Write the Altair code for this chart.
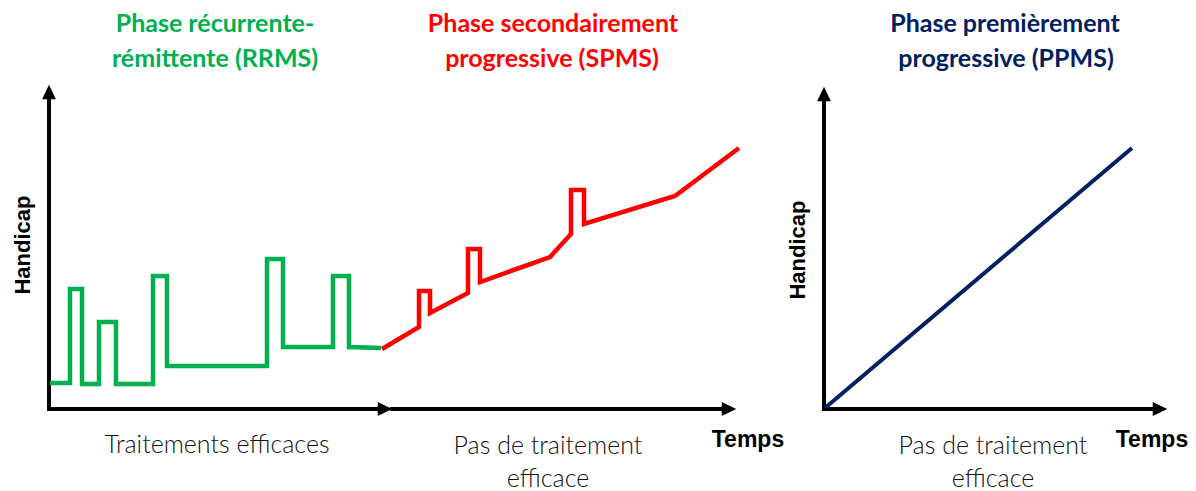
import altair as alt
import pandas as pd

# Coordinates: t = time (horizontal units), h = handicap (vertical units)
# Left panel origin at t=0, h=0.

# RRMS (green) relapsing-remitting path
rrms_t = [1, 21, 21, 33, 33, 50, 50, 67, 67, 104, 104, 118, 118, 218, 218, 234, 234, 284, 284, 300, 300, 332]
rrms_h = [26, 26, 120, 120, 25, 25, 87, 87, 25, 25, 133, 133, 43, 43, 150, 150, 62, 62, 133, 133, 62, 61]

# SPMS (red) secondary progressive path
spms_t = [333, 370, 370, 381, 381, 419, 419, 431, 431, 501, 522, 522, 535, 535, 626, 690]
spms_h = [60, 82, 118, 118, 96, 116, 160, 160, 127, 152, 175, 219, 219, 185, 213, 261]

# PPMS (navy) primary progressive path
ppms_t = [776, 1083]
ppms_h = [1, 261]

# Axis shafts
axis_v_t = [0, 0, 775]
axis_v_h0 = [-2, -2, -2]
axis_v_h1 = [312, 312, 310]
axis_h_t0 = [-2, 341, 773]
axis_h_t1 = [334, 678, 1106]
axis_h_h = [0, 0, 0]

# Arrow heads
arrow_up_t = [0, 775]
arrow_up_h = [317, 315]
arrow_right_t = [336, 680, 1111]
arrow_right_h = [0, 0, 0]

# Titles
title_text = ["Phase récurrente-", "rémittente (RRMS)",
              "Phase secondairement", "progressive (SPMS)",
              "Phase premièrement", "progressive (PPMS)"]
title_t = [166, 166, 504, 503, 956, 957]
title_h = [377, 342, 377, 342, 377, 342]
title_color = ["#00B050", "#00B050", "#FF0000", "#FF0000", "#002060", "#002060"]

# Bottom captions
cap_text = ["Traitements efficaces", "Pas de traitement", "efficace", "Pas de traitement", "efficace"]
cap_t = [168, 499, 499, 944, 944]
cap_h = [-36, -37, -70, -37, -70]

# Axis labels
temps_t = [699, 1103]
temps_h = [-31, -31]
hand_t = [-26, 749]
hand_h = [164, 159]

T0, T1 = -41, 1139
H0, H1 = -82, 401
xs = alt.Scale(domain=[T0, T1], nice=False, zero=False)
ys = alt.Scale(domain=[H0, H1], nice=False, zero=False)


def X(f):
    return alt.X(f, type="quantitative", scale=xs, axis=None)


def Y(f):
    return alt.Y(f, type="quantitative", scale=ys, axis=None)


def path_df(ts, hs):
    return pd.DataFrame({"t": ts, "h": hs, "i": list(range(len(ts)))})


def path(ts, hs, color, w):
    return alt.Chart(path_df(ts, hs)).mark_line(
        color=color, strokeWidth=w, strokeJoin="miter", strokeCap="butt", clip=False
    ).encode(x=X("t"), y=Y("h"), order="i:Q")


vrules = alt.Chart(pd.DataFrame({"t": axis_v_t, "h0": axis_v_h0, "h1": axis_v_h1})).mark_rule(
    color="black", strokeWidth=4).encode(x=X("t"), y=Y("h0"), y2="h1:Q")
hrules = alt.Chart(pd.DataFrame({"t0": axis_h_t0, "t1": axis_h_t1, "h": axis_h_h})).mark_rule(
    color="black", strokeWidth=4).encode(x=X("t0"), x2="t1:Q", y=Y("h"))

up = alt.Chart(pd.DataFrame({"t": arrow_up_t, "h": arrow_up_h})).mark_point(
    shape="M-0.95,1L0,-1L0.95,1Z", filled=True, color="black", opacity=1, size=210, strokeWidth=0
).encode(x=X("t"), y=Y("h"))
right = alt.Chart(pd.DataFrame({"t": arrow_right_t, "h": arrow_right_h})).mark_point(
    shape="M-1,-0.95L1,0L-1,0.95Z", filled=True, color="black", opacity=1, size=210, strokeWidth=0
).encode(x=X("t"), y=Y("h"))

titles = alt.Chart(pd.DataFrame({"t": title_t, "h": title_h, "txt": title_text, "c": title_color})).mark_text(
    font="Lato", fontWeight="bold", fontSize=25, align="center", baseline="alphabetic"
).encode(x=X("t"), y=Y("h"), text="txt:N", color=alt.Color("c:N", scale=None))

caps = alt.Chart(pd.DataFrame({"t": cap_t, "h": cap_h, "txt": cap_text})).mark_text(
    font="Lato", fontWeight=300, fontSize=25, align="center", baseline="middle", color="#111111"
).encode(x=X("t"), y=Y("h"), text="txt:N")

temps = alt.Chart(pd.DataFrame({"t": temps_t, "h": temps_h, "txt": ["Temps", "Temps"]})).mark_text(
    font="Liberation Sans", fontWeight="bold", fontSize=23, align="center", baseline="middle", color="black"
).encode(x=X("t"), y=Y("h"), text="txt:N")

hand = alt.Chart(pd.DataFrame({"t": hand_t, "h": hand_h, "txt": ["Handicap", "Handicap"]})).mark_text(
    font="Liberation Sans", fontWeight="bold", fontSize=22, align="center", baseline="middle",
    color="black", angle=270
).encode(x=X("t"), y=Y("h"), text="txt:N")

chart = alt.layer(
    vrules, hrules, up, right,
    path(rrms_t, rrms_h, "#00B050", 4.5),
    path(spms_t, spms_h, "#FF0000", 4.5),
    path(ppms_t, ppms_h, "#002060", 4),
    titles, caps, temps, hand,
).properties(
    width=1180, height=483, padding=0, autosize=alt.AutoSizeParams(type="none")
).configure_view(stroke=None)

chart.save("out.html", embed_options={"renderer": "svg", "actions": False})
